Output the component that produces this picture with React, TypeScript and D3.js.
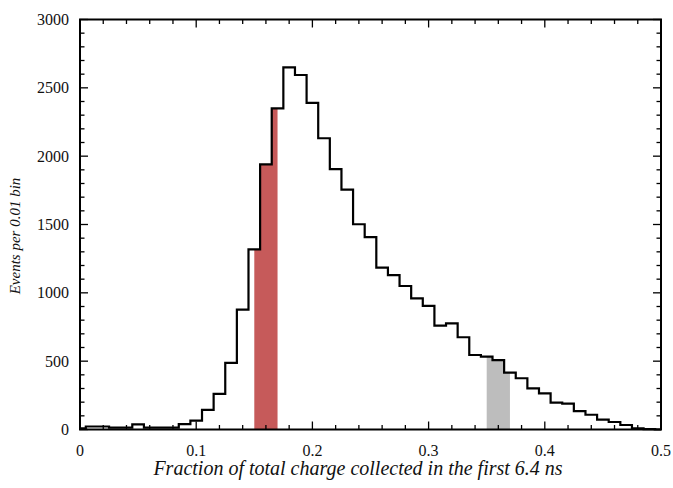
import React from "react";
import * as d3 from "d3";

// Bin centers (0.01 wide bins, centered on multiples of 0.01)
const binCenters: number[] = [
  0.0, 0.01, 0.02, 0.03, 0.04, 0.05, 0.06, 0.07, 0.08, 0.09,
  0.1, 0.11, 0.12, 0.13, 0.14, 0.15, 0.16, 0.17, 0.18, 0.19,
  0.2, 0.21, 0.22, 0.23, 0.24, 0.25, 0.26, 0.27, 0.28, 0.29,
  0.3, 0.31, 0.32, 0.33, 0.34, 0.35, 0.36, 0.37, 0.38, 0.39,
  0.4, 0.41, 0.42, 0.43, 0.44, 0.45, 0.46, 0.47, 0.48, 0.49, 0.5,
];
const counts: number[] = [
  9, 22, 22, 13, 13, 38, 13, 13, 13, 40,
  65, 143, 260, 488, 877, 1318, 1940, 2350, 2650, 2594,
  2390, 2131, 1905, 1755, 1502, 1408, 1184, 1130, 1050, 960,
  904, 760, 777, 675, 545, 533, 508, 416, 375, 301,
  265, 196, 189, 134, 108, 72, 55, 33, 9, 3, 0,
];
const redRange: [number, number] = [0.15, 0.17];
const grayRange: [number, number] = [0.35, 0.37];
const xTicks: number[] = [0, 0.1, 0.2, 0.3, 0.4, 0.5];
const yTicks: number[] = [0, 500, 1000, 1500, 2000, 2500, 3000];
const xLabel = "Fraction of total charge collected in the first 6.4 ns";
const yLabel = "Events per 0.01 bin";

const W = 673;
const H = 488;
const M = { left: 80, right: 12, top: 19.5, bottom: 58.5 };
const BIN = 0.01;

export default function App() {
  const x = d3.scaleLinear().domain([0, 0.5]).range([M.left, W - M.right]);
  const y = d3.scaleLinear().domain([0, 3000]).range([H - M.bottom, M.top]);
  const x0 = x.range()[0], x1 = x.range()[1];
  const y0 = y.range()[0], y1 = y.range()[1];

  // step points clipped to [0, 0.5]
  const pts: [number, number][] = [];
  binCenters.forEach((c, i) => {
    const a = Math.max(0, c - BIN / 2);
    const b = Math.min(0.5, c + BIN / 2);
    pts.push([a, counts[i]]);
    if (i === binCenters.length - 1) pts.push([b, counts[i]]);
  });
  const stepLine = d3
    .line<[number, number]>()
    .x((d) => x(d[0]))
    .y((d) => y(d[1]))
    .curve(d3.curveStepAfter);

  const areaFor = (r: [number, number]) => {
    const ap: [number, number][] = [];
    binCenters.forEach((c, i) => {
      const a = Math.max(r[0], c - BIN / 2);
      const b = Math.min(r[1], c + BIN / 2);
      if (b > a) {
        ap.push([a, counts[i]]);
        ap.push([b, counts[i]]);
      }
    });
    return d3
      .area<[number, number]>()
      .x((d) => x(d[0]))
      .y0(y(0))
      .y1((d) => y(d[1]))(ap) as string;
  };

  const xMinor = d3.range(0, 0.5001, 0.02);
  const yMinor = d3.range(0, 3001, 100);
  const font = "'Liberation Serif', 'Times New Roman', serif";

  return (
    <svg
      width={W}
      height={H}
      style={{ position: "absolute", left: 0, top: 0, background: "#fff" }}
      fontFamily={font}
    >
      <path d={areaFor(redRange)} fill="#c65a5a" />
      <path d={areaFor(grayRange)} fill="#bdbdbd" />
      <path d={stepLine(pts) as string} fill="none" stroke="#000" strokeWidth={2.2} strokeLinejoin="miter" />

      {/* ticks */}
      {xMinor.map((t, i) => {
        const major = xTicks.some((m) => Math.abs(m - t) < 1e-9);
        const len = major ? 8 : 4.5;
        return (
          <g key={"xt" + i} stroke="#000" strokeWidth={1.3}>
            <line x1={x(t)} x2={x(t)} y1={y0} y2={y0 - len} />
            <line x1={x(t)} x2={x(t)} y1={y1} y2={y1 + len} />
          </g>
        );
      })}
      {yMinor.map((t, i) => {
        const major = t % 500 === 0;
        const len = major ? 8 : 4.5;
        return (
          <g key={"yt" + i} stroke="#000" strokeWidth={1.3}>
            <line x1={x0} x2={x0 + len} y1={y(t)} y2={y(t)} />
            <line x1={x1} x2={x1 - len} y1={y(t)} y2={y(t)} />
          </g>
        );
      })}
      <rect x={x0} y={y1} width={x1 - x0} height={y0 - y1} fill="none" stroke="#000" strokeWidth={2} />

      {xTicks.map((t) => (
        <text key={"xl" + t} x={x(t)} y={y0 + 26} textAnchor="middle" fontSize={16} fill="#111">
          {d3.format("")(t)}
        </text>
      ))}
      {yTicks.map((t) => (
        <text key={"yl" + t} x={x0 - 11} y={y(t) + 5.5} textAnchor="end" fontSize={16} fill="#111">
          {t}
        </text>
      ))}
      <text x={358} y={475} textAnchor="middle" fontSize={20} fontStyle="italic" fill="#111">
        {xLabel}
      </text>
      <text
        transform={`translate(20, 236) rotate(-90)`}
        textAnchor="middle"
        fontSize={15}
        fontStyle="italic"
        fill="#111"
      >
        {yLabel}
      </text>
    </svg>
  );
}
